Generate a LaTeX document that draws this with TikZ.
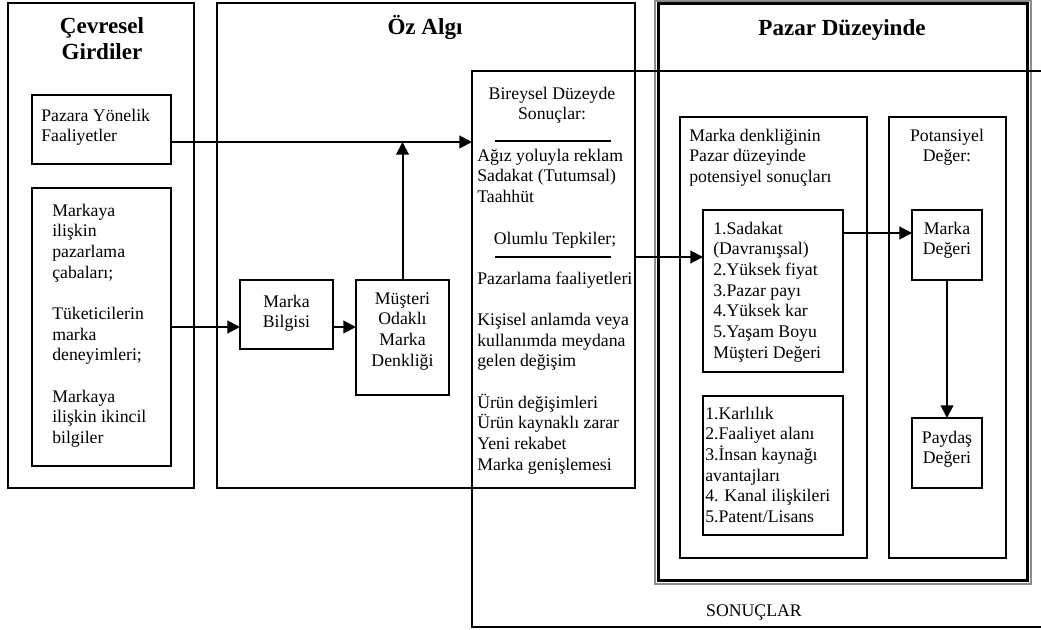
\documentclass[tikz,border=0pt]{standalone}
\usepackage{fontspec}
\setmainfont{Liberation Serif}
\usetikzlibrary{arrows.meta}
\newcommand\bodyfont{\fontsize{13.3}{15.5}\selectfont}
\newcommand\headfont{\fontsize{17.3}{19.5}\selectfont\bfseries}
\begin{document}
\begin{tikzpicture}[x=0.75pt,y=-0.75pt,
  rbox/.style n args={4}{draw, line width=1.1pt, inner sep=0pt, outer sep=0pt, anchor=north west,
    minimum width={(#3-(#1))*0.75pt}, minimum height={(#4-(#2))*0.75pt}, at={(#1,#2)}},
  txt/.style={inner sep=0pt, font=\bodyfont, align=left, anchor=north west},
  ctxt/.style={inner sep=0pt, font=\bodyfont, align=center, anchor=north},
  hd/.style={inner sep=0pt, font=\headfont, align=center},
  arr/.style={line width=1.5pt, -{Triangle[length=9.5pt,width=9.5pt]}},
  rulel/.style={line width=1.5pt}]
\useasboundingbox (0,0) rectangle (1041,630);
% boxes
\node[rbox={8}{3}{194}{488}] (cevbox) {};
\node[rbox={32}{95}{171}{164}] (pazara) {};
\node[rbox={32}{188}{171}{466}] (markaya) {};
\node[rbox={217}{3}{635}{488}] (ozalgi) {};
\node[rbox={240}{280}{333}{349}] (bilgi) {};
\node[rbox={356}{280}{449}{395}] (musteri) {};
\node[rbox={472}{71}{635}{488}] (bireysel) {};
\node[rbox={655}{1}{1031}{584}, draw=black!45, line width=1.6pt] (pazarout) {};
\node[rbox={658.5}{3.5}{1027.5}{580.5}, line width=2.4pt] (pazarin) {};
\node[rbox={680}{117}{867}{558}] (denk) {};
\node[rbox={703}{210}{843}{372}] (sadakat) {};
\node[rbox={703}{396}{843}{535}] (karlilik) {};
\node[rbox={889}{117}{1006}{558}] (potans) {};
\node[rbox={912}{210}{982}{280}] (mdeger) {};
\node[rbox={912}{418}{982}{488}] (paydas) {};
% SONUCLAR frame
\coordinate (stopr) at (1041,71);
\coordinate (sbotl) at (472,627);
\coordinate (sbotr) at (1041,627);
\draw[line width=1.1pt] (stopr) -- (bireysel.north west) -- (sbotl) -- (sbotr);
% rules
\coordinate (r1a) at (495,141);
\coordinate (r1b) at (611,141);
\coordinate (r2a) at (495,257);
\coordinate (r2b) at (611,257);
\draw[rulel] (r1a) -- (r1b);
\draw[rulel] (r2a) -- (r2b);
% arrows
\coordinate (j1) at (402.5,142);
\draw[arr] (pazara.east |- j1) -- (bireysel.west |- j1);
\draw[arr] (musteri.north) -- (j1);
\draw[arr] (markaya.east) -- (bilgi.west |- markaya.east);
\draw[arr] (bilgi.east |- markaya.east) -- (musteri.west |- markaya.east);
\draw[arr] (bireysel.east |- r2a) -- (sadakat.west |- r2a);
\draw[arr] ([yshift=-17.25pt]sadakat.north east) -- ([yshift=-17.25pt]mdeger.north west);
\draw[arr] (mdeger.south) -- (paydas.north);
% texts
\node[hd] (tcev) at (102,39) {Çevresel\\Girdiler};
\node[hd] (toz) at (425,27.5) {Öz Algı};
\node[hd] (tpazar) at (842,30) {Pazar Düzeyinde};
\node[txt] (tpazara) at (41,106.5) {\strut Pazara Yönelik\\Faaliyetler};
\node[txt] (tmarkaya) at (52,201.5) {\strut Markaya\\ilişkin\\pazarlama\\çabaları;\\[15.5pt]Tüketicilerin\\marka\\deneyimleri;\\[15.5pt]Markaya\\ilişkin ikincil\\bilgiler};
\node[ctxt] (tbilgi) at (286.5,292.5) {\strut Marka\\Bilgisi};
\node[ctxt] (tmusteri) at (402.5,289.5) {\strut Müşteri\\Odaklı\\Marka\\Denkliği};
\node[ctxt] (tbir) at (552,84.5) {\strut Bireysel Düzeyde\\Sonuçlar:};
\node[txt] (tagiz) at (477,146.5) {\strut Ağız yoluyla reklam\\Sadakat (Tutumsal)\\Taahhüt};
\node[ctxt] (tolumlu) at (555,229.5) {\strut Olumlu Tepkiler;};
\node[txt] (tpaz) at (477,269.5) {\strut Pazarlama faaliyetleri\\[15.5pt]Kişisel anlamda veya\\kullanımda meydana\\gelen değişim\\[15.5pt]Ürün değişimleri\\Ürün kaynaklı zarar\\Yeni rekabet\\Marka genişlemesi};
\node[txt] (tdenk) at (689,126.5) {\strut Marka denkliğinin\\Pazar düzeyinde\\potensiyel sonuçları};
\node[txt] (tsad) at (713,219.5) {\strut 1.Sadakat\\(Davranışsal)\\2.Yüksek fiyat\\3.Pazar payı\\4.Yüksek kar\\5.Yaşam Boyu\\Müşteri Değeri};
\node[txt] (tkar) at (705,404.5) {\strut 1.Karlılık\\2.Faaliyet alanı\\3.İnsan kaynağı\\avantajları\\4. Kanal ilişkileri\\5.Patent/Lisans};
\node[ctxt] (tpot) at (947,126.5) {\strut Potansiyel\\Değer:};
\node[ctxt] (tmd) at (947,219.5) {\strut Marka\\Değeri};
\node[ctxt] (tpd) at (947,428.5) {\strut Paydaş\\Değeri};
\node[ctxt] (tson) at (754,601.5) {\strut SONUÇLAR};
\end{tikzpicture}
\end{document}
